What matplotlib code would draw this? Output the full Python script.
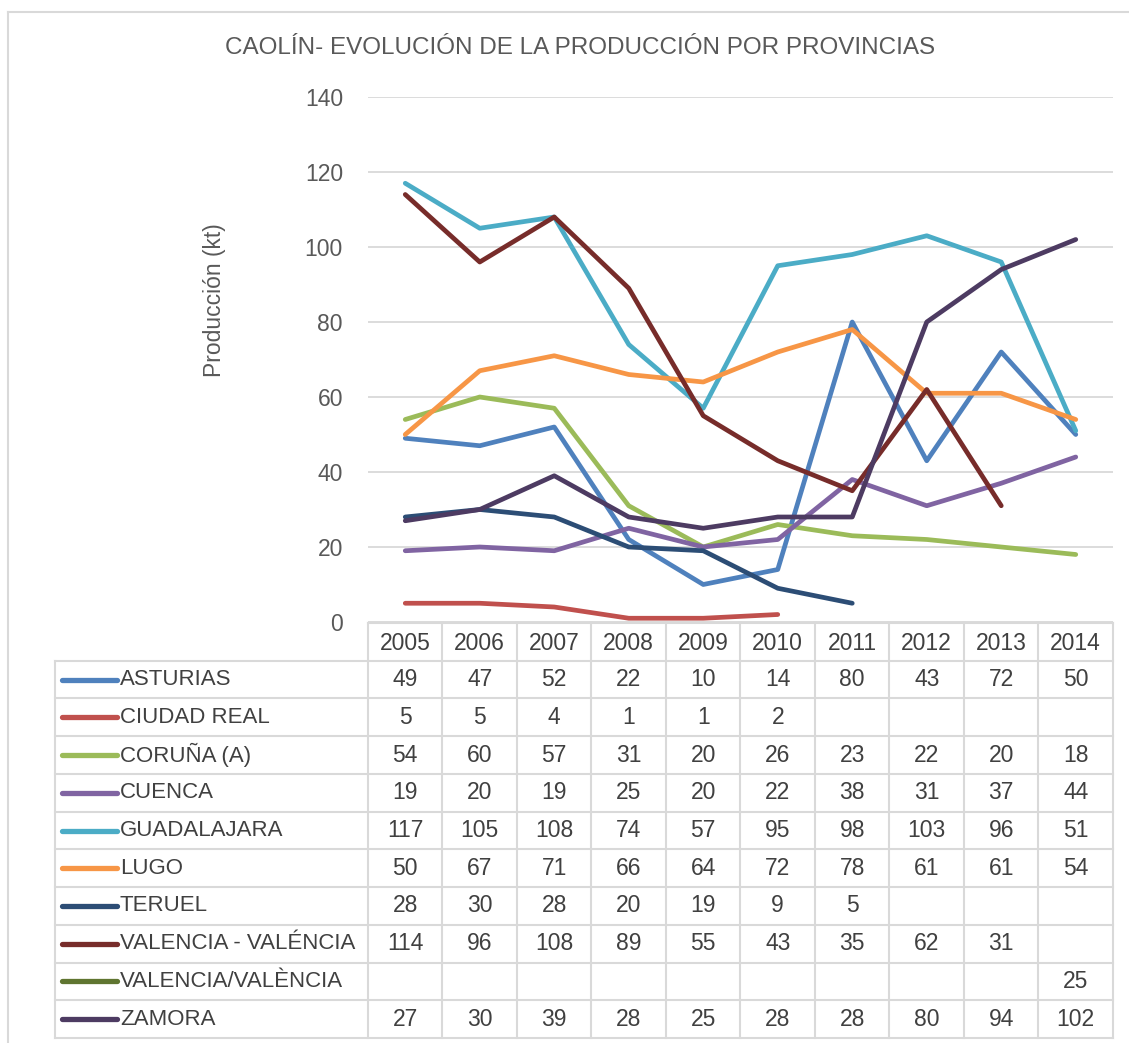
import numpy as np
import matplotlib
matplotlib.use('Agg')
import matplotlib.pyplot as plt
from matplotlib.lines import Line2D

plt.rcParams['font.family'] = ['Liberation Sans', 'DejaVu Sans']

nan = np.nan

years = ['2005', '2006', '2007', '2008', '2009', '2010', '2011', '2012', '2013', '2014']
provinces = ['ASTURIAS', 'CIUDAD REAL', 'CORUÑA (A)', 'CUENCA', 'GUADALAJARA', 'LUGO',
             'TERUEL', 'VALENCIA - VALÉNCIA', 'VALENCIA/VALÈNCIA', 'ZAMORA']

asturias = [49, 47, 52, 22, 10, 14, 80, 43, 72, 50]
ciudad_real = [5, 5, 4, 1, 1, 2, nan, nan, nan, nan]
coruna = [54, 60, 57, 31, 20, 26, 23, 22, 20, 18]
cuenca = [19, 20, 19, 25, 20, 22, 38, 31, 37, 44]
guadalajara = [117, 105, 108, 74, 57, 95, 98, 103, 96, 51]
lugo = [50, 67, 71, 66, 64, 72, 78, 61, 61, 54]
teruel = [28, 30, 28, 20, 19, 9, 5, nan, nan, nan]
valencia1 = [114, 96, 108, 89, 55, 43, 35, 62, 31, nan]
valencia2 = [nan, nan, nan, nan, nan, nan, nan, nan, nan, 25]
zamora = [27, 30, 39, 28, 25, 28, 28, 80, 94, 102]

series = [asturias, ciudad_real, coruna, cuenca, guadalajara, lugo,
          teruel, valencia1, valencia2, zamora]
colors = ['#4F81BD', '#C0504D', '#9BBB59', '#8064A2', '#4BACC6', '#F79646',
          '#2C4D75', '#772C2A', '#5F7530', '#4D3B62']

W, H = 1129, 1043
fig = plt.figure(figsize=(W / 100, H / 100), dpi=100)
grid_c = '#D9D9D9'
txt_c = '#404040'
tick_c = '#595959'

# outer chart frame
fig.add_artist(Line2D([8 / W, 8 / W], [0, (H - 12) / H], color=grid_c, lw=1.5))
fig.add_artist(Line2D([8 / W, 1], [(H - 12) / H, (H - 12) / H], color=grid_c, lw=1.5))

## LINE CHART
ax = fig.add_axes([368 / W, (H - 622) / H, (1113 - 368) / W, (622 - 97) / H])
x = np.arange(len(years))
for vals, c in zip(series, colors):
    ax.plot(x, np.array(vals, dtype=float), color=c, lw=3.4,
            solid_capstyle='round', solid_joinstyle='round')
ax.set_xlim(-0.5, len(years) - 0.5)
ax.set_ylim(0, 140)
ax.set_yticks(np.arange(0, 141, 20))
ax.set_xticks([])
ax.grid(axis='y', color=grid_c, lw=1.3)
ax.set_axisbelow(True)
for s in ax.spines.values():
    s.set_visible(False)
ax.tick_params(axis='y', length=0, pad=18, labelsize=16.5, labelcolor=tick_c)

fig.text(580 / W, (H - 48) / H, 'CAOLÍN- EVOLUCIÓN DE LA PRODUCCIÓN POR PROVINCIAS',
         ha='center', va='center', fontsize=17.5, color=tick_c)
fig.text(215 / W, (H - 300) / H, 'Producción (kt)', rotation=90,
         ha='center', va='center', fontsize=16.5, color=tick_c)

## DATA TABLE
col_w = (1113 - 368) / len(years)
left = -0.5 - (368 - 55) / col_w
ax_t = fig.add_axes([55 / W, (H - 1038) / H, (1113 - 55) / W, (1038 - 623) / H])
ax_t.set_xlim(left, len(years) - 0.5)
ax_t.set_ylim(len(provinces) + 0.5, -0.5)
ax_t.axis('off')

n = len(provinces)
ax_t.plot([-0.5, len(years) - 0.5], [-0.5, -0.5], color=grid_c, lw=1.5, clip_on=False)
for r in range(n + 1):
    ax_t.plot([left, len(years) - 0.5], [r + 0.5, r + 0.5], color=grid_c, lw=1.5, clip_on=False)
ax_t.plot([left, left], [0.5, n + 0.5], color=grid_c, lw=1.5, clip_on=False)
for c in range(len(years) + 1):
    ax_t.plot([c - 0.5, c - 0.5], [-0.5, n + 0.5], color=grid_c, lw=1.5, clip_on=False)

for i, yr in enumerate(years):
    ax_t.text(i, 0.05, yr, ha='center', va='center', fontsize=16.5, color=txt_c)

key0 = left + 7 / col_w
key1 = left + 62 / col_w
for r, (name, vals, c) in enumerate(zip(provinces, series, colors), start=1):
    ax_t.plot([key0, key1], [r, r], color=c, lw=3.8, solid_capstyle='round')
    ax_t.text(left + 65 / col_w, r, name, ha='left', va='center', fontsize=16, color=txt_c)
    for i, v in enumerate(vals):
        if not np.isnan(v):
            ax_t.text(i, r, '%d' % round(v), ha='center', va='center',
                      fontsize=16.5, color=txt_c)

fig.savefig('out.png', dpi=100)
